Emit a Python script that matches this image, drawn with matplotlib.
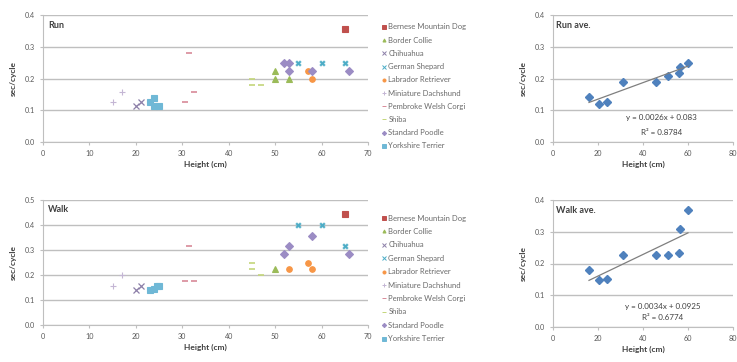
import matplotlib
matplotlib.use("Agg")
import matplotlib.pyplot as plt
from matplotlib.lines import Line2D

plt.rcParams['font.family'] = ['Lato', 'DejaVu Sans']

breeds = ["Bernese Mountain Dog", "Border Collie", "Chihuahua", "German Shepard",
          "Labrador Retriever", "Miniature Dachshund", "Pembroke Welsh Corgi",
          "Shiba", "Standard Poodle", "Yorkshire Terrier"]
colors = ["#C0504D", "#9BBB59", "#8C7FA8", "#4BACC6", "#F79646", "#C4B6D4",
          "#D88A98", "#C4D67A", "#9B8CC4", "#6FB8D6"]
markers = ["s", "^", "x", "$\u2716$", "o", "+", "_", "_", "D", "s"]

run_x = {
    "Bernese Mountain Dog": [65],
    "Border Collie": [50, 50, 53],
    "Chihuahua": [20, 21],
    "German Shepard": [55, 60, 65],
    "Labrador Retriever": [57, 58],
    "Miniature Dachshund": [15, 17],
    "Pembroke Welsh Corgi": [30.5, 31.5, 32.5],
    "Shiba": [45, 45, 47],
    "Standard Poodle": [52, 53, 53, 58, 66],
    "Yorkshire Terrier": [23, 24, 24, 25],
}
run_y = {
    "Bernese Mountain Dog": [0.355],
    "Border Collie": [0.225, 0.2, 0.2],
    "Chihuahua": [0.113, 0.125],
    "German Shepard": [0.25, 0.25, 0.25],
    "Labrador Retriever": [0.225, 0.2],
    "Miniature Dachshund": [0.125, 0.158],
    "Pembroke Welsh Corgi": [0.125, 0.28, 0.158],
    "Shiba": [0.2, 0.178, 0.178],
    "Standard Poodle": [0.25, 0.25, 0.225, 0.225, 0.225],
    "Yorkshire Terrier": [0.125, 0.14, 0.113, 0.113],
}
walk_x = {
    "Bernese Mountain Dog": [65],
    "Border Collie": [50],
    "Chihuahua": [20, 21],
    "German Shepard": [55, 60, 65],
    "Labrador Retriever": [53, 57, 58],
    "Miniature Dachshund": [15, 17],
    "Pembroke Welsh Corgi": [31.5, 30.5, 32.5],
    "Shiba": [45, 45, 47],
    "Standard Poodle": [52, 53, 58, 66],
    "Yorkshire Terrier": [23, 24, 24.5, 25],
}
walk_y = {
    "Bernese Mountain Dog": [0.445],
    "Border Collie": [0.225],
    "Chihuahua": [0.14, 0.158],
    "German Shepard": [0.4, 0.4, 0.316],
    "Labrador Retriever": [0.225, 0.25, 0.225],
    "Miniature Dachshund": [0.158, 0.2],
    "Pembroke Welsh Corgi": [0.316, 0.178, 0.178],
    "Shiba": [0.25, 0.225, 0.2],
    "Standard Poodle": [0.283, 0.316, 0.355, 0.283],
    "Yorkshire Terrier": [0.14, 0.145, 0.158, 0.158],
}

ave_h = [16, 20.5, 24, 31, 45.6, 51, 56, 56.5, 60]
run_ave = [0.143, 0.12, 0.127, 0.19, 0.19, 0.207, 0.216, 0.235, 0.25]
walk_ave = [0.179, 0.149, 0.152, 0.226, 0.226, 0.226, 0.234, 0.309, 0.37]
run_fit = (0.0026, 0.083)
walk_fit = (0.0034, 0.0925)

W, H = 737, 362
fig = plt.figure(figsize=(W / 100, H / 100), dpi=100)

def ax_at(l, t, r, b):
    return fig.add_axes([l / W, 1 - b / H, (r - l) / W, (b - t) / H])

grid_c = "#BFBFBF"
txt_c = "#595959"
fs = 5.2

def style(ax, xmax, xstep, ymax, title):
    ax.set_xlim(0, xmax)
    ax.set_ylim(0, ymax)
    ax.set_xticks(range(0, xmax + 1, xstep))
    yt = [i / 10 for i in range(int(round(ymax * 10)) + 1)]
    ax.set_yticks(yt)
    ax.set_yticklabels([f"{v:.1f}" for v in yt])
    for s in ["top", "right"]:
        ax.spines[s].set_visible(False)
    for s in ["left", "bottom"]:
        ax.spines[s].set_color(grid_c)
        ax.spines[s].set_linewidth(0.8)
    ax.yaxis.grid(True, color=grid_c, linewidth=1.0)
    ax.set_axisbelow(True)
    ax.tick_params(axis="both", colors=grid_c, labelcolor=txt_c, labelsize=fs,
                   length=2.5, width=0.8, pad=3)
    ax.set_xlabel("Height (cm)", fontsize=6, fontweight="bold", color="#404040", labelpad=3)
    ax.set_ylabel("sec/cycle", fontsize=6, fontweight="bold", color="#404040", labelpad=6)
    ax.text(0.015, 0.92, title, transform=ax.transAxes, fontsize=6.5,
            fontweight="bold", color="#404040", va="center", ha="left")

def scatter_panel(ax, xs, ys):
    for b, c, m in zip(breeds, colors, markers):
        ms = 4
        mew = 0.8
        if m == "x":
            ms = 4; mew = 0.9
        if m == "+":
            ms = 4; mew = 0.8
        if m == "_":
            ms = 5; mew = 1.2
        if m.startswith("$"):
            ms = 4; mew = 0.3
        ax.plot(xs[b], ys[b], linestyle="none", marker=m, color=c, markersize=ms,
                markeredgewidth=mew, markeredgecolor=c)

def legend_panel(ax_left_px, top_px, step_px):
    for i, (b, c, m) in enumerate(zip(breeds, colors, markers)):
        y = 1 - (top_px + i * step_px) / H
        fig.lines.append(Line2D([ax_left_px / W], [y], transform=fig.transFigure,
                                marker=m if not m.startswith("$") else "x",
                                color=c, markersize=2.2, markeredgewidth=0.7,
                                linestyle="none"))
        fig.text((ax_left_px + 4.5) / W, y, b, fontsize=5.5, color="#6A6A6A",
                 va="center", ha="left")

# Run
ax1 = ax_at(43, 15, 368, 142)
style(ax1, 70, 10, 0.4, "Run")
scatter_panel(ax1, run_x, run_y)
legend_panel(384, 27, 13.2)

# Walk
ax2 = ax_at(43, 200, 368, 325)
style(ax2, 70, 10, 0.5, "Walk")
scatter_panel(ax2, walk_x, walk_y)
legend_panel(384, 218, 13.4)

def ave_panel(ax, ys, fit, title, ymax):
    style(ax, 80, 20, ymax, title)
    ax.plot(ave_h, ys, linestyle="none", marker="D", color="#4F81BD", markersize=4.2)
    x0, x1 = min(ave_h), max(ave_h)
    ax.plot([x0, x1], [fit[0] * x0 + fit[1], fit[0] * x1 + fit[1]], color="#7F7F7F", linewidth=0.9)

ax3 = ax_at(553, 15, 733, 142)
ave_panel(ax3, run_ave, run_fit, "Run ave.", 0.4)
ax3.text(0.605, 0.19, "y = 0.0026x + 0.083", transform=ax3.transAxes, fontsize=5.8,
         color="#404040", ha="center", va="center")
ax3.text(0.605, 0.075, "R\u00b2 = 0.8784", transform=ax3.transAxes, fontsize=5.8,
         color="#404040", ha="center", va="center")

ax4 = ax_at(553, 200, 733, 327)
ave_panel(ax4, walk_ave, walk_fit, "Walk ave.", 0.4)
ax4.text(0.61, 0.16, "y = 0.0034x + 0.0925", transform=ax4.transAxes, fontsize=5.8,
         color="#404040", ha="center", va="center")
ax4.text(0.61, 0.075, "R\u00b2 = 0.6774", transform=ax4.transAxes, fontsize=5.8,
         color="#404040", ha="center", va="center")

fig.savefig("out.png", dpi=100, facecolor="white")
